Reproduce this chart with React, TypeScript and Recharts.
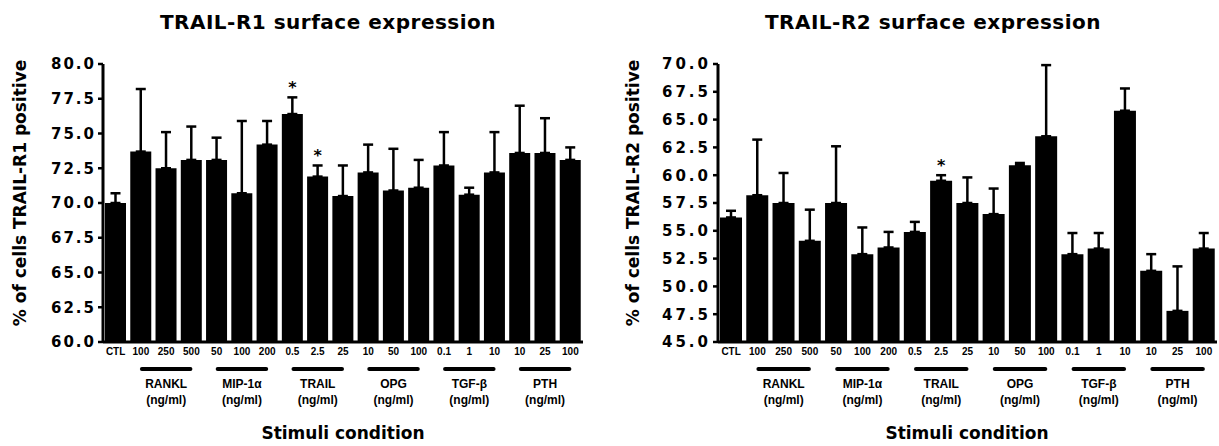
import { Bar, ComposedChart, ErrorBar, Line, XAxis, YAxis } from "recharts";
import type { FC } from "react";

// stimulation conditions, in plot order (CTL, then 3 doses per stimulus)
const conditions = ["CTL", "100", "250", "500", "50", "100", "200", "0.5", "2.5", "25", "10", "50", "100", "0.1", "1", "10", "10", "25", "100"];
const stimuli = ["RANKL", "MIP-1α", "TRAIL", "OPG", "TGF-β", "PTH"];

// TRAIL-R1: % positive cells, mean and upper SD
const r1Mean = [70.0, 73.7, 72.5, 73.1, 73.1, 70.7, 74.2, 76.4, 71.9, 70.5, 72.2, 70.9, 71.1, 72.7, 70.6, 72.2, 73.6, 73.6, 73.1];
const r1Err = [0.7, 4.5, 2.6, 2.4, 1.6, 5.2, 1.7, 1.2, 0.8, 2.2, 2.0, 3.0, 2.0, 2.4, 0.5, 2.9, 3.4, 2.5, 0.9];
const r1Starred = [7, 8];
const r1Ticks = [60, 62.5, 65, 67.5, 70, 72.5, 75, 77.5, 80];

// TRAIL-R2
const r2Mean = [56.2, 58.2, 57.5, 54.1, 57.5, 52.9, 53.5, 54.9, 59.5, 57.5, 56.5, 60.9, 63.5, 52.9, 53.4, 65.8, 51.4, 47.8, 53.4];
const r2Err = [0.6, 5.0, 2.7, 2.8, 5.1, 2.4, 1.4, 0.9, 0.5, 2.3, 2.3, 0.2, 6.4, 1.9, 1.4, 2.0, 1.5, 4.0, 1.4];
const r2Starred = [8];
const r2Ticks = [45, 47.5, 50, 52.5, 55, 57.5, 60, 62.5, 65, 67.5, 70];

const H = 446;
const BOLD = "'DejaVu Sans', sans-serif";

type Row = { key: string; mean: number; err: [number, number]; star: number | null };

// only the upper whisker is shown in the figure
const buildRows = (mean: number[], err: number[], starred: number[]): Row[] =>
  conditions.map((_, i) => ({
    key: `c${i}`,
    mean: mean[i],
    err: [0, err[i]],
    star: starred.includes(i) ? mean[i] + err[i] : null,
  }));

const ConditionTick = (props: any) => {
  const { x, y, payload, pitch } = props;
  const i = Number(String(payload.value).slice(1));
  const isMid = i >= 1 && (i - 1) % 3 === 1;
  const group = stimuli[(i - 2) / 3];
  return (
    <g>
      <text x={x} y={y + 13} textAnchor="middle" fontSize={10} fontWeight={700}
        fontFamily="'Liberation Sans Narrow', 'Liberation Sans', sans-serif" fill="#000">
        {conditions[i]}
      </text>
      {isMid && (
        <g>
          <line x1={x - pitch + 1} x2={x + pitch - 1} y1={y + 27} y2={y + 27}
            stroke="#000" strokeWidth={4} strokeLinecap="round" />
          <text x={x} y={y + 46} textAnchor="middle" fontSize={12} fontWeight={700}
            fontFamily="'Liberation Sans', sans-serif" fill="#000">{group}</text>
          <text x={x} y={y + 62} textAnchor="middle" fontSize={12} fontWeight={700}
            fontFamily="'Liberation Sans', sans-serif" fill="#000">(ng/ml)</text>
        </g>
      )}
    </g>
  );
};

const renderStar = (p: any) => {
  if (p.value == null || p.cy == null) return <g key={`s${p.index}`} />;
  return (
    <text key={`s${p.index}`} x={p.cx} y={p.cy - 4} textAnchor="middle"
      fontSize={16} fontWeight={700} fontFamily={BOLD} fill="#000">*</text>
  );
};

interface PanelProps {
  rows: Row[];
  domain: [number, number];
  ticks: number[];
  left: number;
  width: number;
  axisWidth: number;
  rightPad: number;
  digitSpacing: number;
}

const Panel: FC<PanelProps> = ({ rows, domain, ticks, left, width, axisWidth, rightPad, digitSpacing }) => {
  const pitch = (width - axisWidth - rightPad) / rows.length;
  return (
    <div style={{ position: "absolute", left, top: 0 }}>
      <ComposedChart width={width} height={H} data={rows} barCategoryGap={2}
        margin={{ top: 64, right: rightPad, bottom: 4, left: 0 }}>
        <XAxis dataKey="key" interval={0} height={100} tickLine={false} tickSize={0} tickMargin={0}
          axisLine={{ stroke: "#000", strokeWidth: 3 }}
          tick={(p: any) => <ConditionTick {...p} pitch={pitch} />} />
        <YAxis domain={domain} ticks={ticks} allowDataOverflow interval={0} width={axisWidth}
          tickFormatter={(v: number) => v.toFixed(1)}
          axisLine={{ stroke: "#000", strokeWidth: 3 }}
          tickLine={{ stroke: "#000", strokeWidth: 2.5 }} tickSize={5} tickMargin={2}
          tick={{ fill: "#000", fontSize: 15, fontWeight: 700, fontFamily: BOLD, letterSpacing: digitSpacing }} />
        <Bar dataKey="mean" fill="#000" isAnimationActive={false}>
          <ErrorBar dataKey="err" width={5} strokeWidth={2.5} stroke="#000" direction="y" />
        </Bar>
        <Line dataKey="star" stroke="none" dot={renderStar} activeDot={false}
          isAnimationActive={false} legendType="none" />
      </ComposedChart>
    </div>
  );
};

export default function App() {
  const r1Rows = buildRows(r1Mean, r1Err, r1Starred);
  const r2Rows = buildRows(r2Mean, r2Err, r2Starred);
  const title = { fontSize: 20, fontWeight: 700, fontFamily: BOLD, letterSpacing: 0.5 };
  const axisTitle = { fontSize: 17, fontWeight: 700, fontFamily: BOLD };
  return (
    <div style={{ position: "absolute", left: 0, top: 0, width: 1219, height: H, background: "#fff", overflow: "hidden" }}>
      <Panel rows={r1Rows} domain={[60, 80]} ticks={r1Ticks} left={0} width={600}
        axisWidth={103} rightPad={17} digitSpacing={2} />
      <Panel rows={r2Rows} domain={[45, 70]} ticks={r2Ticks} left={600} width={619}
        axisWidth={118} rightPad={2} digitSpacing={3} />
      <svg width={1219} height={H} style={{ position: "absolute", left: 0, top: 0, pointerEvents: "none" }}>
        <text x={328} y={29} textAnchor="middle" {...title}>TRAIL-R1 surface expression</text>
        <text x={933} y={29} textAnchor="middle" {...title}>TRAIL-R2 surface expression</text>
        <text x={343} y={439} textAnchor="middle" {...axisTitle}>Stimuli condition</text>
        <text x={967} y={439} textAnchor="middle" {...axisTitle}>Stimuli condition</text>
        <text transform="translate(20,193) rotate(-90)" textAnchor="middle" dominantBaseline="central" {...axisTitle}>
          % of cells TRAIL-R1 positive
        </text>
        <text transform="translate(633,193) rotate(-90)" textAnchor="middle" dominantBaseline="central" {...axisTitle}>
          % of cells TRAIL-R2 positive
        </text>
      </svg>
    </div>
  );
}
